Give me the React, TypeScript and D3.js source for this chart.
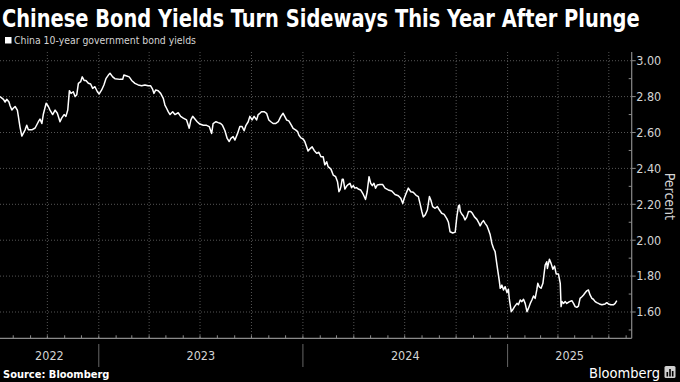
import React from "react";
import * as d3 from "d3";

const TITLE = "Chinese Bond Yields Turn Sideways This Year After Plunge";
const SERIES_NAME = "China 10-year government bond yields";
const SOURCE = "Source: Bloomberg";
const BRAND = "Bloomberg";
const Y_AXIS_TITLE = "Percent";
const Y_TICK_VALUES = [1.6, 1.8, 2.0, 2.2, 2.4, 2.6, 2.8, 3.0];
const YEAR_LABELS = [2022, 2023, 2024, 2025];

// time as decimal year
const TIME = [
  2022.516, 2022.533, 2022.541, 2022.549, 2022.560, 2022.565, 2022.574, 2022.581, 2022.590, 2022.601,
  2022.606, 2022.614, 2022.623, 2022.630, 2022.639, 2022.647, 2022.655, 2022.672, 2022.688, 2022.704,
  2022.712, 2022.721, 2022.728, 2022.742, 2022.753, 2022.761, 2022.774, 2022.786, 2022.797, 2022.810,
  2022.818, 2022.830, 2022.839, 2022.848, 2022.856, 2022.864, 2022.875, 2022.884, 2022.892, 2022.900,
  2022.911, 2022.919, 2022.928, 2022.937, 2022.949, 2022.960, 2022.970, 2022.981, 2022.993, 2023.002,
  2023.014, 2023.025, 2023.035, 2023.047, 2023.055, 2023.068, 2023.079, 2023.104, 2023.117, 2023.123,
  2023.137, 2023.149, 2023.161, 2023.177, 2023.193, 2023.210, 2023.226, 2023.242, 2023.254, 2023.264,
  2023.270, 2023.279, 2023.291, 2023.303, 2023.316, 2023.324, 2023.332, 2023.340, 2023.349, 2023.362,
  2023.373, 2023.389, 2023.401, 2023.414, 2023.430, 2023.443, 2023.451, 2023.460, 2023.471, 2023.482,
  2023.495, 2023.512, 2023.528, 2023.541, 2023.553, 2023.560, 2023.574, 2023.585, 2023.597, 2023.606,
  2023.618, 2023.629, 2023.639, 2023.647, 2023.658, 2023.667, 2023.680, 2023.691, 2023.702, 2023.712,
  2023.721, 2023.732, 2023.740, 2023.751, 2023.761, 2023.773, 2023.781, 2023.789, 2023.797, 2023.810,
  2023.822, 2023.833, 2023.843, 2023.854, 2023.866, 2023.879, 2023.892, 2023.903, 2023.911, 2023.920,
  2023.931, 2023.944, 2023.952, 2023.964, 2023.974, 2023.980, 2023.990, 2024.001, 2024.009, 2024.018,
  2024.025, 2024.035, 2024.045, 2024.055, 2024.067, 2024.078, 2024.088, 2024.099, 2024.107, 2024.116,
  2024.123, 2024.137, 2024.148, 2024.160, 2024.169, 2024.176, 2024.181, 2024.186, 2024.192, 2024.197,
  2024.205, 2024.213, 2024.221, 2024.230, 2024.238, 2024.246, 2024.254, 2024.262, 2024.270, 2024.282,
  2024.295, 2024.306, 2024.314, 2024.323, 2024.331, 2024.339, 2024.347, 2024.355, 2024.363, 2024.376,
  2024.390, 2024.401, 2024.417, 2024.434, 2024.450, 2024.466, 2024.478, 2024.488, 2024.495, 2024.504,
  2024.515, 2024.527, 2024.539, 2024.553, 2024.564, 2024.572, 2024.581, 2024.588, 2024.597, 2024.608,
  2024.618, 2024.625, 2024.634, 2024.646, 2024.657, 2024.667, 2024.678, 2024.690, 2024.703, 2024.711,
  2024.719, 2024.732, 2024.744, 2024.752, 2024.760, 2024.765, 2024.769, 2024.776, 2024.784, 2024.792,
  2024.801, 2024.809, 2024.820, 2024.828, 2024.838, 2024.850, 2024.858, 2024.866, 2024.874, 2024.882,
  2024.890, 2024.899, 2024.907, 2024.915, 2024.923, 2024.931, 2024.939, 2024.948, 2024.953, 2024.959,
  2024.964, 2024.972, 2024.980, 2024.988, 2024.997, 2025.004, 2025.009, 2025.018, 2025.024, 2025.034,
  2025.046, 2025.053, 2025.062, 2025.070, 2025.078, 2025.086, 2025.095, 2025.102, 2025.111, 2025.119,
  2025.127, 2025.135, 2025.143, 2025.148, 2025.155, 2025.164, 2025.173, 2025.184, 2025.192, 2025.195,
  2025.205, 2025.213, 2025.222, 2025.230, 2025.238, 2025.249, 2025.258, 2025.262, 2025.267, 2025.274,
  2025.282, 2025.290, 2025.303, 2025.315, 2025.323, 2025.331, 2025.339, 2025.347, 2025.355, 2025.364,
  2025.372, 2025.380, 2025.388, 2025.396, 2025.404, 2025.413, 2025.420, 2025.429, 2025.437, 2025.450,
  2025.462, 2025.478, 2025.486, 2025.494, 2025.506, 2025.518, 2025.527, 2025.535,
];

const YIELD = [
  2.800, 2.785, 2.770, 2.785, 2.770, 2.750, 2.725, 2.735, 2.745, 2.725,
  2.690, 2.630, 2.580, 2.595, 2.615, 2.640, 2.615, 2.615, 2.625, 2.660,
  2.675, 2.650, 2.700, 2.763, 2.745, 2.725, 2.700, 2.725, 2.707, 2.660,
  2.680, 2.700, 2.690, 2.725, 2.833, 2.818, 2.827, 2.800, 2.810, 2.874,
  2.883, 2.910, 2.890, 2.890, 2.874, 2.870, 2.846, 2.855, 2.827, 2.815,
  2.837, 2.865, 2.900, 2.920, 2.930, 2.910, 2.900, 2.896, 2.896, 2.920,
  2.915, 2.910, 2.890, 2.874, 2.865, 2.860, 2.865, 2.860, 2.860, 2.840,
  2.818, 2.837, 2.833, 2.818, 2.790, 2.753, 2.735, 2.716, 2.700, 2.716,
  2.700, 2.710, 2.690, 2.680, 2.670, 2.624, 2.670, 2.690, 2.675, 2.660,
  2.647, 2.640, 2.640, 2.633, 2.595, 2.650, 2.660, 2.655, 2.650, 2.640,
  2.610, 2.567, 2.550, 2.567, 2.577, 2.558, 2.595, 2.633, 2.633, 2.610,
  2.640, 2.660, 2.690, 2.670, 2.690, 2.670, 2.700, 2.707, 2.716, 2.716,
  2.707, 2.670, 2.660, 2.650, 2.650, 2.660, 2.690, 2.707, 2.690, 2.670,
  2.665, 2.640, 2.623, 2.615, 2.605, 2.586, 2.570, 2.564, 2.550, 2.520,
  2.497, 2.510, 2.520, 2.500, 2.484, 2.490, 2.465, 2.465, 2.420, 2.437,
  2.410, 2.396, 2.363, 2.354, 2.326, 2.270, 2.280, 2.300, 2.340, 2.340,
  2.285, 2.300, 2.310, 2.317, 2.293, 2.304, 2.290, 2.293, 2.285, 2.280,
  2.255, 2.227, 2.270, 2.354, 2.317, 2.304, 2.317, 2.290, 2.307, 2.310,
  2.310, 2.290, 2.280, 2.274, 2.255, 2.248, 2.234, 2.205, 2.234, 2.260,
  2.290, 2.270, 2.267, 2.250, 2.243, 2.205, 2.160, 2.130, 2.140, 2.168,
  2.243, 2.224, 2.187, 2.178, 2.187, 2.168, 2.150, 2.144, 2.120, 2.100,
  2.047, 2.040, 2.045, 2.130, 2.190, 2.196, 2.160, 2.146, 2.135, 2.113,
  2.130, 2.160, 2.160, 2.150, 2.130, 2.116, 2.100, 2.080, 2.098, 2.109,
  2.094, 2.080, 2.057, 2.030, 1.983, 1.955, 1.936, 1.862, 1.824, 1.778,
  1.732, 1.750, 1.723, 1.741, 1.708, 1.727, 1.667, 1.602, 1.611, 1.630,
  1.648, 1.640, 1.667, 1.658, 1.671, 1.648, 1.602, 1.620, 1.648, 1.667,
  1.689, 1.676, 1.723, 1.760, 1.741, 1.732, 1.760, 1.862, 1.880, 1.843,
  1.894, 1.871, 1.838, 1.856, 1.812, 1.812, 1.760, 1.630, 1.658, 1.648,
  1.658, 1.648, 1.658, 1.663, 1.648, 1.630, 1.626, 1.633, 1.676, 1.685,
  1.695, 1.707, 1.718, 1.723, 1.695, 1.676, 1.671, 1.658, 1.652, 1.645,
  1.640, 1.645, 1.652, 1.645, 1.640, 1.640, 1.648, 1.663,
];

const decToDate = (t: number) => {
  const yr = Math.floor(t);
  const a = Date.UTC(yr, 0, 1);
  const b = Date.UTC(yr + 1, 0, 1);
  return new Date(a + (t - yr) * (b - a));
};

const FONT = "'DejaVu Sans Condensed', 'DejaVu Sans', sans-serif";

function FitText(props: {
  x: number;
  y: number;
  target: number;
  fontSize: number;
  fill: string;
  weight?: string;
  children: string;
}) {
  const ref = React.useRef<SVGTextElement>(null);
  const [k, setK] = React.useState(1);
  React.useLayoutEffect(() => {
    if (ref.current) {
      const len = ref.current.getComputedTextLength();
      if (len > 0) setK(props.target / len);
    }
  }, [props.target, props.children]);
  return (
    <text
      ref={ref}
      transform={`translate(${props.x},${props.y}) scale(${k},1)`}
      fill={props.fill}
      fontFamily={FONT}
      fontWeight={props.weight || "normal"}
      fontSize={props.fontSize}
    >
      {props.children}
    </text>
  );
}

export default function App() {
  const width = 680;
  const height = 382;
  const plotL = 0;
  const plotR = 631.7;
  const plotT = 52;
  const plotB = 338.3;

  const x = d3
    .scaleUtc()
    .domain([decToDate(2022.516), decToDate(2025.608)])
    .range([plotL, plotR]);
  const y = d3.scaleLinear().domain([1.4535, 3.0485]).range([plotB, plotT]);

  const data = TIME.map((t, i) => ({ d: decToDate(t), v: YIELD[i] }));
  const line = d3
    .line<{ d: Date; v: number }>()
    .x((p) => x(p.d))
    .y((p) => y(p.v));

  const [d0, d1] = x.domain();
  const quarters = d3.utcMonth.every(3)!.range(d0, d1);
  const months = d3.utcMonth.range(d0, d1);
  const minorY = d3.range(15, 31, 1).map((k) => k / 10).filter((v) => Math.round(v * 10) % 2 === 1);
  const yearStarts = YEAR_LABELS.slice(1).map((yr) => new Date(Date.UTC(yr, 0, 1)));

  const yearPos = YEAR_LABELS.map((yr) => {
    const s = Math.max(+d0, Date.UTC(yr, 0, 1));
    const e = Math.min(+d1, Date.UTC(yr + 1, 0, 1));
    return { yr, cx: (x(new Date(s)) + x(new Date(e))) / 2 };
  });

  const gridColor = "#555";
  const axisColor = "#8a8a8a";
  const labelColor = "#d4d4d4";

  return (
    <svg
      width={width}
      height={height}
      style={{ position: "fixed", left: 0, top: 0, background: "#000", display: "block" }}
    >
      <rect x={0} y={0} width={width} height={height} fill="#000" />
      <FitText x={2} y={27} target={638} fontSize={24} fill="#fff" weight="bold">
        {TITLE}
      </FitText>
      <rect x={5} y={37} width={6.5} height={6.5} fill="#fff" />
      <FitText x={14} y={44} target={182} fontSize={11} fill={labelColor}>
        {SERIES_NAME}
      </FitText>

      {/* horizontal grid */}
      {Y_TICK_VALUES.map((v) => (
        <line
          key={"hg" + v}
          x1={plotL}
          x2={plotR}
          y1={y(v)}
          y2={y(v)}
          stroke={gridColor}
          strokeWidth={1}
          strokeDasharray="1,2"
        />
      ))}
      {/* vertical grid */}
      {quarters.map((q) => (
        <line
          key={"vg" + +q}
          x1={x(q)}
          x2={x(q)}
          y1={plotT}
          y2={plotB}
          stroke={gridColor}
          strokeWidth={1}
          strokeDasharray="1,2"
        />
      ))}

      {/* y axis */}
      <line x1={plotR} x2={plotR} y1={plotT} y2={plotB} stroke={axisColor} strokeWidth={1.2} />
      {Y_TICK_VALUES.map((v) => (
        <g key={"yt" + v}>
          <line x1={plotR} x2={plotR + 4} y1={y(v)} y2={y(v)} stroke={axisColor} strokeWidth={1} />
          <text
            x={plotR + 4.5}
            y={y(v)}
            dy="0.35em"
            fill={labelColor}
            fontFamily={FONT}
            fontSize={12.5}
          >
            {d3.format(".2f")(v)}
          </text>
        </g>
      ))}
      {minorY.map((v) => (
        <line key={"ym" + v} x1={plotR - 3} x2={plotR} y1={y(v)} y2={y(v)} stroke={axisColor} strokeWidth={1} />
      ))}
      <text
        transform={`translate(${665},${(y(2.2) + y(2.4)) / 2 + 10}) rotate(90)`}
        textAnchor="middle"
        fill={labelColor}
        fontFamily={FONT}
        fontSize={14}
      >
        {Y_AXIS_TITLE}
      </text>

      {/* x axis */}
      <line x1={plotL} x2={plotR} y1={plotB} y2={plotB} stroke={axisColor} strokeWidth={1.2} />
      {months.map((m) => (
        <line key={"xm" + +m} x1={x(m)} x2={x(m)} y1={plotB} y2={plotB - 3} stroke={axisColor} strokeWidth={1} />
      ))}
      {yearStarts.map((s) => (
        <line key={"ys" + +s} x1={x(s)} x2={x(s)} y1={344} y2={367} stroke="#666" strokeWidth={1} />
      ))}
      {yearPos.map((p) => (
        <text
          key={"yl" + p.yr}
          x={p.cx}
          y={360}
          textAnchor="middle"
          fill={labelColor}
          fontFamily={FONT}
          fontSize={12.5}
        >
          {p.yr}
        </text>
      ))}

      {/* series */}
      <path d={line(data) || ""} fill="none" stroke="#fff" strokeWidth={1.5} strokeLinejoin="round" />

      {/* footer */}
      <text x={3} y={378} fill="#fff" fontFamily={FONT} fontWeight="bold" fontSize={11}>
        {SOURCE}
      </text>
      <text x={660} y={378} textAnchor="end" fill="#fff" fontFamily={FONT} fontSize={14.5}>
        {BRAND}
      </text>
      <rect x={664.5} y={366} width={11} height={12} rx={1.5} fill="#cfcfcf" />
      <rect x={666.5} y={372} width={1.6} height={4.5} fill="#000" />
      <rect x={669.2} y={369} width={1.6} height={7.5} fill="#000" />
      <rect x={671.9} y={371} width={1.6} height={5.5} fill="#000" />
    </svg>
  );
}
